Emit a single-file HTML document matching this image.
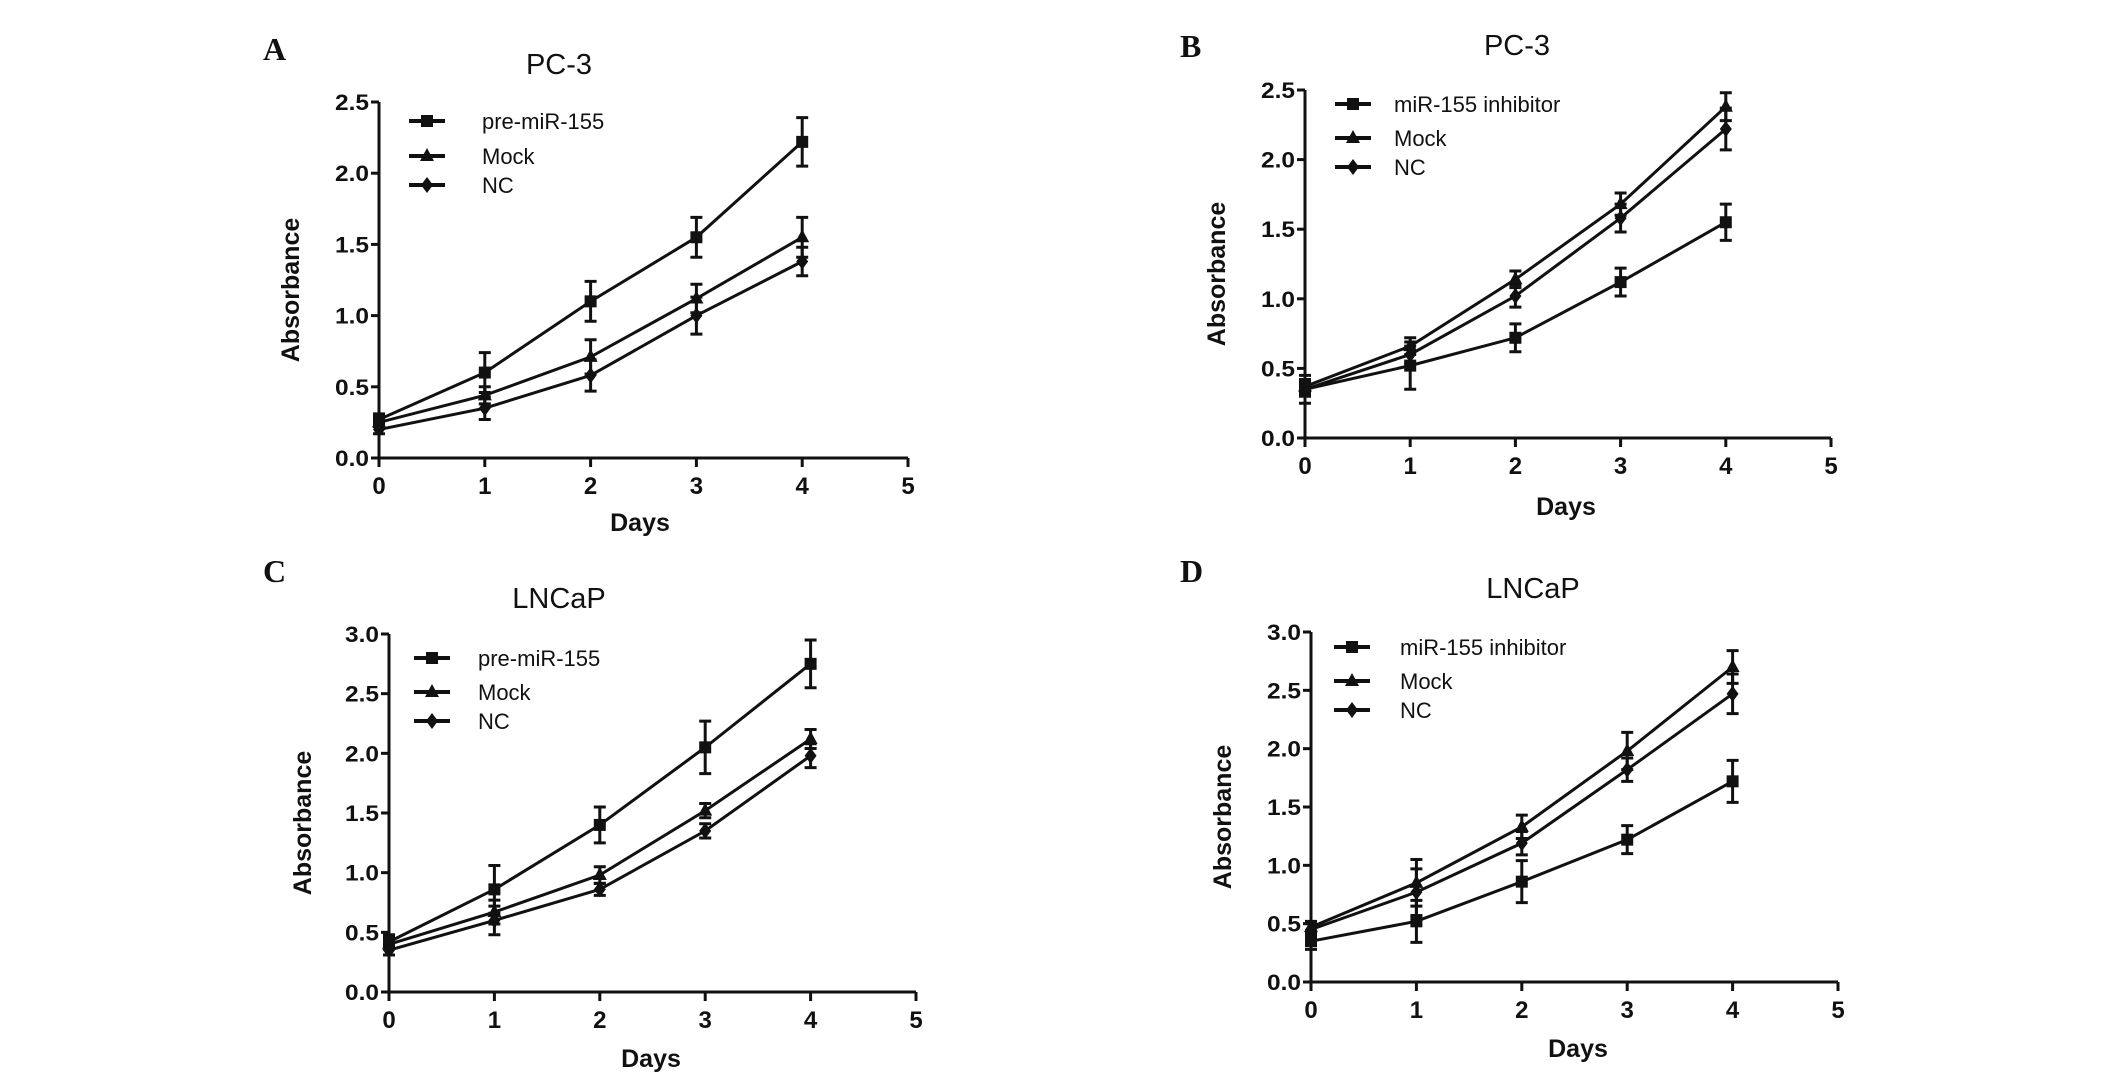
<!DOCTYPE html>
<html><head><meta charset="utf-8">
<style>
html,body{margin:0;padding:0;background:#fff;}
svg{display:block;}
text{font-family:"Liberation Sans",Arial,sans-serif;fill:#111;}
</style></head>
<body>
<svg id="fig" width="2126" height="1075" viewBox="0 0 2126 1075" xmlns="http://www.w3.org/2000/svg"></svg>
<script>
const days = [0,1,2,3,4];
const xTicks = [0,1,2,3,4,5];
const yTicksPC3 = [0,0.5,1.0,1.5,2.0,2.5];
const yTicksLN = [0,0.5,1.0,1.5,2.0,2.5,3.0];

const aPre = [0.27,0.60,1.10,1.55,2.22];
const aPreErr = [0.04,0.14,0.14,0.14,0.17];
const aMock = [0.25,0.44,0.71,1.12,1.55];
const aMockErr = [0.03,0.06,0.12,0.10,0.14];
const aNC = [0.20,0.35,0.58,1.00,1.38];
const aNCErr = [0.03,0.08,0.11,0.13,0.10];

const bInh = [0.35,0.52,0.72,1.12,1.55];
const bInhErr = [0.10,0.17,0.10,0.10,0.13];
const bMock = [0.37,0.66,1.14,1.68,2.38];
const bMockErr = [0.05,0.06,0.06,0.08,0.10];
const bNC = [0.35,0.60,1.02,1.58,2.22];
const bNCErr = [0.05,0.06,0.08,0.10,0.15];

const cPre = [0.42,0.86,1.40,2.05,2.75];
const cPreErr = [0.06,0.20,0.15,0.22,0.20];
const cMock = [0.40,0.67,0.98,1.52,2.12];
const cMockErr = [0.04,0.10,0.07,0.06,0.08];
const cNC = [0.35,0.60,0.86,1.35,1.98];
const cNCErr = [0.04,0.12,0.05,0.06,0.10];

const dInh = [0.35,0.52,0.86,1.22,1.72];
const dInhErr = [0.07,0.18,0.18,0.12,0.18];
const dMock = [0.47,0.85,1.33,1.98,2.70];
const dMockErr = [0.05,0.20,0.10,0.16,0.14];
const dNC = [0.45,0.77,1.19,1.82,2.47];
const dNCErr = [0.05,0.20,0.10,0.10,0.17];

const NS = "http://www.w3.org/2000/svg";
const svg = document.getElementById('fig');
function mk(tag, attrs, parent){
  const e = document.createElementNS(NS, tag);
  for (const k in attrs) e.setAttribute(k, attrs[k]);
  (parent||svg).appendChild(e);
  return e;
}
function marker(g, shape, x, y){
  let m;
  if (shape==='square') m = mk('rect',{x:x-6,y:y-6,width:12,height:12,fill:'#111'},g);
  else if (shape==='triangle') m = mk('polygon',{points:`${x},${y-8} ${x-7},${y+5} ${x+7},${y+5}`,fill:'#111'},g);
  else m = mk('polygon',{points:`${x},${y-8} ${x+6},${y} ${x},${y+8} ${x-6},${y}`,fill:'#111'},g);
  return m;
}

function panel(cfg){
  const g = mk('g',{});
  
  
  const X = d => cfg.x0 + (cfg.x5 - cfg.x0) * d / 5;
  const Y = v => cfg.y0 - (cfg.y0 - cfg.yTop) * v / cfg.yMax;

  const letter = mk('text',{x:cfg.letter[0],y:cfg.letter[1]+12,style:'font-family:"Liberation Serif",serif;font-weight:bold;font-size:32px'},g);
  letter.textContent = cfg.letterText;
  
  

  const t = mk('text',{x:cfg.title[0],y:cfg.title[1]+10,'text-anchor':'middle','font-size':29},g);
  t.textContent = cfg.titleText;
  
  

  const ya = mk('line',{x1:cfg.x0,y1:cfg.yTop,x2:cfg.x0,y2:cfg.y0+8,stroke:'#111','stroke-width':3},g);
  
  
  const xa = mk('line',{x1:cfg.x0-8,y1:cfg.y0,x2:cfg.x5,y2:cfg.y0,stroke:'#111','stroke-width':3},g);
  
  

  cfg.yTicks.forEach(v=>{
    const y = Y(v);
    mk('line',{x1:cfg.x0-8,y1:y,x2:cfg.x0,y2:y,stroke:'#111','stroke-width':3},g);
    const tl = mk('text',{x:cfg.x0-10,y:y+8,'text-anchor':'end','font-size':22,'font-weight':'bold',textLength:34,lengthAdjust:'spacingAndGlyphs'},g);
    tl.textContent = v.toFixed(1);
    
    
  });
  xTicks.forEach(d=>{
    const x = X(d);
    mk('line',{x1:x,y1:cfg.y0,x2:x,y2:cfg.y0+9,stroke:'#111','stroke-width':3},g);
    const tl = mk('text',{x:x,y:cfg.y0+36,'text-anchor':'middle','font-size':24,'font-weight':'bold'},g);
    tl.textContent = d;
    
    
  });

  const xt = mk('text',{x:cfg.days[0],y:cfg.days[1]+9,'text-anchor':'middle','font-size':25,'font-weight':'bold'},g);
  xt.textContent = 'Days';
  
  

  const yc = (cfg.y0+cfg.yTop)/2 + 10;
  const yt = mk('text',{x:0,y:0,'text-anchor':'middle','font-size':25,'font-weight':'bold',transform:`translate(${cfg.x0-cfg.ylabOff},${yc}) rotate(-90)`},g);
  yt.textContent = 'Absorbance';
  
  

  cfg.series.forEach((s,si)=>{
    const sg = mk('g',{},g);
    
    
    const pts = days.map((d,i)=>X(d)+','+Y(s.vals[i])).join(' ');
    mk('polyline',{points:pts,fill:'none',stroke:'#111','stroke-width':3},sg);
    days.forEach((d,i)=>{
      const x = X(d), hi = Y(s.vals[i]+s.err[i]), lo = Y(s.vals[i]-s.err[i]);
      const eb = mk('path',{d:`M${x},${hi}V${lo}M${x-6},${hi}H${x+6}M${x-6},${lo}H${x+6}`,stroke:'#111','stroke-width':3,fill:'none'},sg);
      
      
      const m = marker(sg, s.shape, x, Y(s.vals[i]));
      
      
    });
    const ly = cfg.legY[si];
    const le = mk('g',{},g);
    
    
    mk('line',{x1:cfg.legX-18,y1:ly,x2:cfg.legX+18,y2:ly,stroke:'#111','stroke-width':4},le);
    marker(le, s.shape, cfg.legX, ly);
    const lt = mk('text',{x:cfg.legTextX,y:ly+8,'font-size':22},le);
    lt.textContent = s.label;
  });
}

panel({id:'panel-a',letterText:'A',titleText:'PC-3',letter:[263,48],title:[559,64],
  x0:379,x5:908,y0:458,yTop:102,yMax:2.5,yTicks:yTicksPC3,days:[640,522],ylabOff:80,
  legX:427,legTextX:482,legY:[121,156,185],
  series:[{key:'pre-mir-155',label:'pre-miR-155',shape:'square',vals:aPre,err:aPreErr},
          {key:'mock',label:'Mock',shape:'triangle',vals:aMock,err:aMockErr},
          {key:'nc',label:'NC',shape:'diamond',vals:aNC,err:aNCErr}]});
panel({id:'panel-b',letterText:'B',titleText:'PC-3',letter:[1180,45],title:[1517,45],
  x0:1305,x5:1831,y0:438,yTop:90,yMax:2.5,yTicks:yTicksPC3,days:[1566,506],ylabOff:80,
  legX:1353,legTextX:1394,legY:[104,138,167],
  series:[{key:'mir-155-inhibitor',label:'miR-155 inhibitor',shape:'square',vals:bInh,err:bInhErr},
          {key:'mock',label:'Mock',shape:'triangle',vals:bMock,err:bMockErr},
          {key:'nc',label:'NC',shape:'diamond',vals:bNC,err:bNCErr}]});
panel({id:'panel-c',letterText:'C',titleText:'LNCaP',letter:[263,570],title:[559,598],
  x0:389,x5:916,y0:992,yTop:634,yMax:3,yTicks:yTicksLN,days:[651,1058],ylabOff:78,
  legX:432,legTextX:478,legY:[658,692,721],
  series:[{key:'pre-mir-155',label:'pre-miR-155',shape:'square',vals:cPre,err:cPreErr},
          {key:'mock',label:'Mock',shape:'triangle',vals:cMock,err:cMockErr},
          {key:'nc',label:'NC',shape:'diamond',vals:cNC,err:cNCErr}]});
panel({id:'panel-d',letterText:'D',titleText:'LNCaP',letter:[1180,570],title:[1533,588],
  x0:1311,x5:1838,y0:982,yTop:632,yMax:3,yTicks:yTicksLN,days:[1578,1048],ylabOff:80,
  legX:1352,legTextX:1400,legY:[647,681,710],
  series:[{key:'mir-155-inhibitor',label:'miR-155 inhibitor',shape:'square',vals:dInh,err:dInhErr},
          {key:'mock',label:'Mock',shape:'triangle',vals:dMock,err:dMockErr},
          {key:'nc',label:'NC',shape:'diamond',vals:dNC,err:dNCErr}]});
</script>
</body></html>
